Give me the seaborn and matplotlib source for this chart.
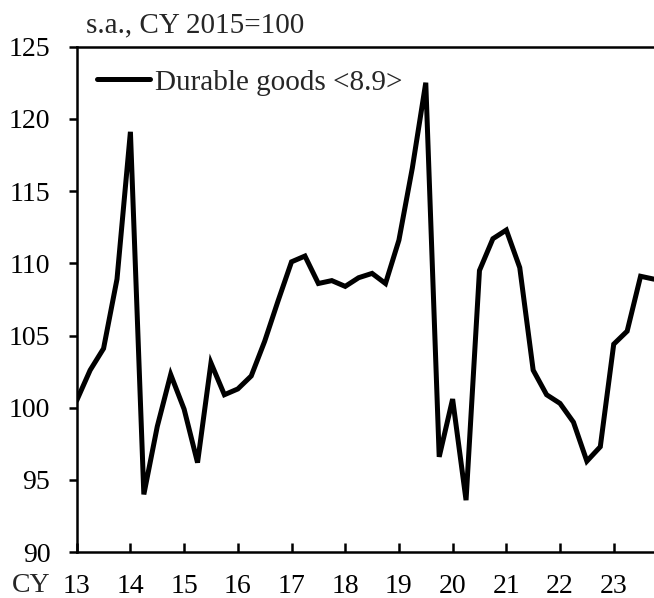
import numpy as np
import pandas as pd
import matplotlib
matplotlib.use("Agg")
import matplotlib.pyplot as plt
import seaborn as sns

# Quarterly index, 2013 Q1 - 2023 Q4 (s.a., CY 2015=100)
years = list(range(2013, 2024))
quarters = [1, 2, 3, 4]
durable_goods = [
    100.5, 102.6, 104.1, 108.9,   # 2013
    119.1, 94.0, 98.7, 102.3,     # 2014
    99.9, 96.2, 103.1, 100.9,     # 2015
    101.3, 102.2, 104.6, 107.4,   # 2016
    110.1, 110.5, 108.6, 108.8,   # 2017
    108.4, 109.0, 109.3, 108.6,   # 2018
    111.6, 116.6, 122.5, 96.6,    # 2019
    100.6, 93.6, 109.5, 111.7,    # 2020
    112.3, 109.7, 102.6, 100.9,   # 2021
    100.3, 99.0, 96.3, 97.3,      # 2022
    104.4, 105.3, 109.1, 108.9,   # 2023
]
year_labels = ["13", "14", "15", "16", "17", "18", "19", "20", "21", "22", "23"]
series_name = "Durable goods <8.9>"
unit_note = "s.a., CY 2015=100"

period = [y - 2000 + (q - 1) / 4 for y in years for q in quarters]
df = pd.DataFrame({"period": period, "value": durable_goods})

sns.set_theme(style="white")
plt.rcParams["font.family"] = ["Liberation Serif", "DejaVu Serif"]

fig = plt.figure(figsize=(6.54, 5.98), dpi=100)
ax = fig.add_axes([0.1173, 0.0766, 0.8827, 0.8455])

sns.lineplot(data=df, x="period", y="value", ax=ax, color="black",
             linewidth=3.6, label=series_name, solid_joinstyle="miter")

ax.set_xlim(13, 23.75)
ax.set_ylim(90, 125)
ax.set_yticks(np.arange(90, 126, 5))
ax.set_xticks(range(13, 24))
ax.set_xticklabels(year_labels)
ax.set_xlabel("")
ax.set_ylabel("")

for side in ["left", "bottom", "top"]:
    ax.spines[side].set_visible(True)
    ax.spines[side].set_color("black")
    ax.spines[side].set_linewidth(1.8)
ax.spines["right"].set_visible(False)

ax.tick_params(axis="y", direction="out", length=6, width=1.8,
               labelsize=20, pad=13, colors="black", left=True)
ax.tick_params(axis="x", direction="in", length=6.5, width=1.8,
               labelsize=20, pad=15.5, colors="black", bottom=True)

# "CY" prefix to the left of the year labels
fig.text(50 / 654, 0.5 / 598, "CY", fontsize=20, ha="right", va="bottom")

fig.text(0.131, 0.957, unit_note, fontsize=21, ha="left", va="center")

leg = ax.legend(loc="upper left", bbox_to_anchor=(0.005, 0.99), frameon=False,
                fontsize=21, handlelength=1.82, handletextpad=0.15,
                borderaxespad=0.2)
for line in leg.get_lines():
    line.set_linewidth(3.6)

fig.savefig("out.png", dpi=100)
